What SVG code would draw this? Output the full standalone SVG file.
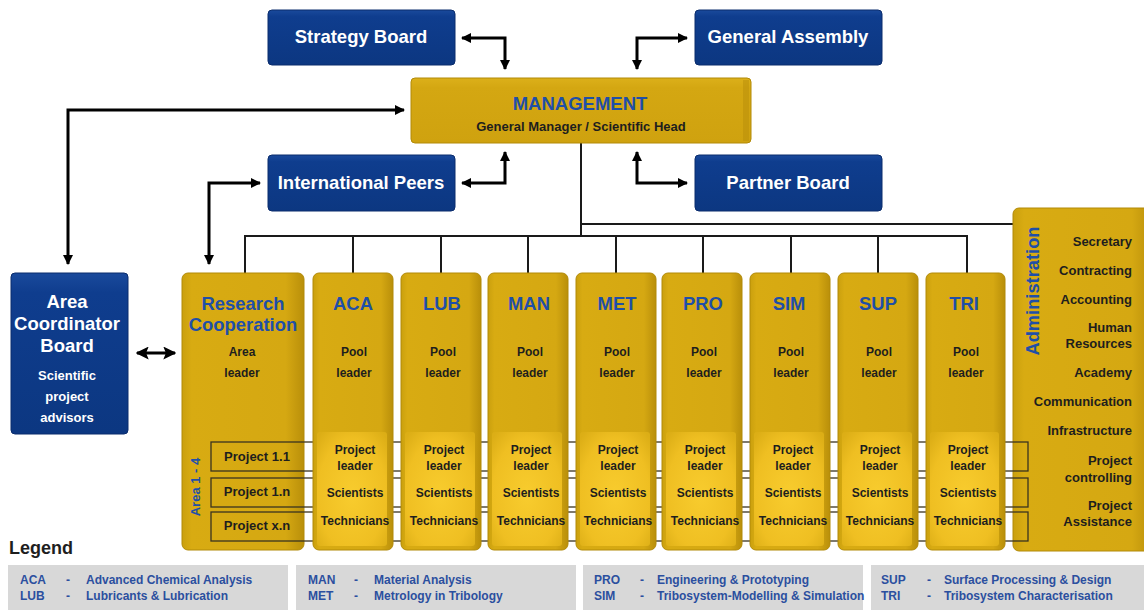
<svg xmlns="http://www.w3.org/2000/svg" width="1144" height="610" viewBox="0 0 1144 610">
  <style>
    .blue { fill: url(#blueFill); stroke: #0a2c6c; stroke-width: 1; }
    .gold { fill: url(#goldFill); stroke: #b28a08; stroke-width: 1; }
    .glow { fill: url(#glowFill); }
    .wt { font-family: "Liberation Sans", Arial, sans-serif; font-weight: bold; fill: #ffffff; text-anchor: middle; }
    .bt { font-family: "Liberation Sans", Arial, sans-serif; font-weight: bold; fill: #1f4fa8; text-anchor: middle; }
    .kt { font-family: "Liberation Sans", Arial, sans-serif; font-weight: bold; fill: #1e1e1e; text-anchor: middle; font-size: 12px; }
    .rt { font-family: "Liberation Sans", Arial, sans-serif; font-weight: bold; fill: #1e1e1e; text-anchor: end; font-size: 13px; }
    .lg { font-family: "Liberation Sans", Arial, sans-serif; font-weight: bold; fill: #2b4f9f; font-size: 12px; }
    .arrow { fill: none; stroke: #000; stroke-width: 3; }
    .tree { fill: none; stroke: #1a1a1a; stroke-width: 2; }
    .row { fill: none; stroke: #3a3320; stroke-width: 1.3; }
    .lbox { fill: #d8d8d8; }
  </style>
  <defs>
    <linearGradient id="blueFill" x1="0" y1="0" x2="0" y2="1">
      <stop offset="0" stop-color="#1a4a9c"/>
      <stop offset="0.12" stop-color="#0f3d8e"/>
      <stop offset="1" stop-color="#0c3781"/>
    </linearGradient>
    <linearGradient id="goldFill" x1="0" y1="0" x2="1" y2="0">
      <stop offset="0" stop-color="#caa00e"/>
      <stop offset="0.08" stop-color="#d8ab12"/>
      <stop offset="0.85" stop-color="#d5a812"/>
      <stop offset="1" stop-color="#b98f0a"/>
    </linearGradient>
    <linearGradient id="mgmtFill" x1="0" y1="0" x2="0" y2="1">
      <stop offset="0" stop-color="#dcb01a"/>
      <stop offset="0.15" stop-color="#d4a712"/>
      <stop offset="1" stop-color="#cfa20f"/>
    </linearGradient>
    <radialGradient id="glowFill" cx="0.5" cy="0.55" r="0.7">
      <stop offset="0" stop-color="#f8cc2e"/>
      <stop offset="0.7" stop-color="#efbf22"/>
      <stop offset="1" stop-color="#dcae16"/>
    </radialGradient>
    <marker id="ah" viewBox="0 0 10 10" refX="9" refY="5" markerWidth="10" markerHeight="10" markerUnits="userSpaceOnUse" orient="auto-start-reverse">
      <path d="M0,0 L10,5 L0,10 Z" fill="#000"/>
    </marker>
    <marker id="ahBig" viewBox="0 0 10 10" refX="9" refY="5" markerWidth="13" markerHeight="13" markerUnits="userSpaceOnUse" orient="auto-start-reverse">
      <path d="M0,0 L10,5 L0,10 L2,5 Z" fill="#000"/>
    </marker>
  </defs>

  <rect width="1144" height="610" fill="#ffffff"/>

  <!-- Connectors -->
  <g id="connectors">
    <!-- management tree -->
    <path class="tree" d="M581,143 V236 M581,224 H1014"/>
    <path class="tree" d="M245,273 V236 H967 V273"/>
    <path class="tree" d="M353,236 V273 M441,236 V273 M528,236 V273 M616,236 V273 M703,236 V273 M791,236 V273 M878,236 V273"/>
    <!-- boards to management -->
    <path class="arrow" d="M462,38 H505 V69" marker-start="url(#ah)" marker-end="url(#ah)"/>
    <path class="arrow" d="M637,69 V38 H687" marker-start="url(#ah)" marker-end="url(#ah)"/>
    <path class="arrow" d="M462,183 H505 V152" marker-start="url(#ah)" marker-end="url(#ah)"/>
    <path class="arrow" d="M637,152 V183 H687" marker-start="url(#ah)" marker-end="url(#ah)"/>
    <!-- area coordinator board to management -->
    <path class="arrow" d="M68,264 V110 H404" marker-start="url(#ah)" marker-end="url(#ah)"/>
    <!-- research cooperation to international peers -->
    <path class="arrow" d="M209,264 V183 H260" marker-start="url(#ah)" marker-end="url(#ah)"/>
    <!-- area coordinator board to research cooperation -->
    <path class="arrow" d="M137,353 H175" stroke-width="4" marker-start="url(#ahBig)" marker-end="url(#ahBig)"/>
  </g>

  <!-- Boards -->
  <g id="strategy-board">
    <rect class="blue" x="268" y="10" width="187" height="55" rx="4"/>
    <text class="wt" x="361" y="43" font-size="18.5">Strategy Board</text>
  </g>
  <g id="general-assembly">
    <rect class="blue" x="695" y="10" width="187" height="55" rx="4"/>
    <text class="wt" x="788" y="43" font-size="18.5">General Assembly</text>
  </g>
  <g id="management">
    <rect x="411" y="78" width="340" height="65" rx="4" fill="url(#mgmtFill)" stroke="#b28a08"/>
    <rect x="743" y="80" width="6" height="61" fill="#b88e0a" opacity="0.5"/>
    <text class="bt" x="580" y="110" font-size="18.5">MANAGEMENT</text>
    <text class="kt" x="581" y="131" style="font-size:13px">General Manager / Scientific Head</text>
  </g>
  <g id="international-peers">
    <rect class="blue" x="268" y="155" width="187" height="56" rx="4"/>
    <text class="wt" x="361" y="189" font-size="18.5">International Peers</text>
  </g>
  <g id="partner-board">
    <rect class="blue" x="695" y="155" width="187" height="56" rx="4"/>
    <text class="wt" x="788" y="189" font-size="18.5">Partner Board</text>
  </g>

  <g id="area-coordinator-board">
    <rect class="blue" x="11" y="273" width="117" height="161" rx="4"/>
    <text class="wt" x="67" y="308" font-size="18.5">Area</text>
    <text class="wt" x="67" y="330" font-size="18.5">Coordinator</text>
    <text class="wt" x="67" y="352" font-size="18.5">Board</text>
    <text class="wt" x="67" y="380" font-size="13">Scientific</text>
    <text class="wt" x="67" y="401" font-size="13">project</text>
    <text class="wt" x="67" y="422" font-size="13">advisors</text>
  </g>

  <!-- Administration -->
  <g id="administration">
    <rect class="gold" x="1013" y="208" width="140" height="343" rx="6"/>
    <text class="bt" transform="translate(1039,291) rotate(-90)" font-size="18.3">Administration</text>
    <text class="rt" x="1132" y="246">Secretary</text>
    <text class="rt" x="1132" y="275">Contracting</text>
    <text class="rt" x="1132" y="304">Accounting</text>
    <text class="rt" x="1132" y="332">Human</text>
    <text class="rt" x="1132" y="348">Resources</text>
    <text class="rt" x="1132" y="377">Academy</text>
    <text class="rt" x="1132" y="406">Communication</text>
    <text class="rt" x="1132" y="435">Infrastructure</text>
    <text class="rt" x="1132" y="465">Project</text>
    <text class="rt" x="1132" y="482">controlling</text>
    <text class="rt" x="1132" y="510">Project</text>
    <text class="rt" x="1132" y="526">Assistance</text>
  </g>

  <!-- Research cooperation -->
  <g id="research-cooperation">
    <rect class="gold" x="182" y="273" width="122" height="277" rx="6"/>
    <text class="bt" x="243" y="310" font-size="18.4">Research</text>
    <text class="bt" x="243" y="331" font-size="18.4">Cooperation</text>
    <text class="kt" x="242" y="356">Area</text>
    <text class="kt" x="242" y="377">leader</text>
    <text class="bt" transform="translate(200,487) rotate(-90)" font-size="13">Area 1 - 4</text>
  </g>

  <!-- Project rows -->
  <g id="project-rows">
    <rect class="row" x="211" y="442" width="817" height="29"/>
    <rect class="row" x="211" y="478" width="817" height="29"/>
    <rect class="row" x="211" y="512" width="817" height="29"/>
    <text class="kt" x="257" y="461" style="font-size:13px">Project 1.1</text>
    <text class="kt" x="257" y="496" style="font-size:13px">Project 1.n</text>
    <text class="kt" x="257" y="530" style="font-size:13px">Project x.n</text>
  </g>

  <!-- Competence pools -->
  <g id="pool-aca">
    <rect class="gold" x="313" y="273" width="80" height="277" rx="6"/>
    <rect class="glow" x="317" y="432" width="70" height="114" rx="3"/>
    <text class="bt" x="353" y="310" font-size="18.4">ACA</text>
    <text class="kt" x="354" y="356">Pool</text>
    <text class="kt" x="354" y="377">leader</text>
    <text class="kt" x="355" y="454">Project</text>
    <text class="kt" x="355" y="470">leader</text>
    <text class="kt" x="355" y="497">Scientists</text>
    <text class="kt" x="355" y="525">Technicians</text>
  </g>
  <g id="pool-lub">
    <rect class="gold" x="401" y="273" width="80" height="277" rx="6"/>
    <rect class="glow" x="405" y="432" width="70" height="114" rx="3"/>
    <text class="bt" x="442" y="310" font-size="18.4">LUB</text>
    <text class="kt" x="443" y="356">Pool</text>
    <text class="kt" x="443" y="377">leader</text>
    <text class="kt" x="444" y="454">Project</text>
    <text class="kt" x="444" y="470">leader</text>
    <text class="kt" x="444" y="497">Scientists</text>
    <text class="kt" x="444" y="525">Technicians</text>
  </g>
  <g id="pool-man">
    <rect class="gold" x="488" y="273" width="80" height="277" rx="6"/>
    <rect class="glow" x="492" y="432" width="70" height="114" rx="3"/>
    <text class="bt" x="529" y="310" font-size="18.4">MAN</text>
    <text class="kt" x="530" y="356">Pool</text>
    <text class="kt" x="530" y="377">leader</text>
    <text class="kt" x="531" y="454">Project</text>
    <text class="kt" x="531" y="470">leader</text>
    <text class="kt" x="531" y="497">Scientists</text>
    <text class="kt" x="531" y="525">Technicians</text>
  </g>
  <g id="pool-met">
    <rect class="gold" x="576" y="273" width="80" height="277" rx="6"/>
    <rect class="glow" x="580" y="432" width="70" height="114" rx="3"/>
    <text class="bt" x="617" y="310" font-size="18.4">MET</text>
    <text class="kt" x="617" y="356">Pool</text>
    <text class="kt" x="617" y="377">leader</text>
    <text class="kt" x="618" y="454">Project</text>
    <text class="kt" x="618" y="470">leader</text>
    <text class="kt" x="618" y="497">Scientists</text>
    <text class="kt" x="618" y="525">Technicians</text>
  </g>
  <g id="pool-pro">
    <rect class="gold" x="662" y="273" width="80" height="277" rx="6"/>
    <rect class="glow" x="666" y="432" width="70" height="114" rx="3"/>
    <text class="bt" x="703" y="310" font-size="18.4">PRO</text>
    <text class="kt" x="704" y="356">Pool</text>
    <text class="kt" x="704" y="377">leader</text>
    <text class="kt" x="705" y="454">Project</text>
    <text class="kt" x="705" y="470">leader</text>
    <text class="kt" x="705" y="497">Scientists</text>
    <text class="kt" x="705" y="525">Technicians</text>
  </g>
  <g id="pool-sim">
    <rect class="gold" x="750" y="273" width="80" height="277" rx="6"/>
    <rect class="glow" x="754" y="432" width="70" height="114" rx="3"/>
    <text class="bt" x="789" y="310" font-size="18.4">SIM</text>
    <text class="kt" x="791" y="356">Pool</text>
    <text class="kt" x="791" y="377">leader</text>
    <text class="kt" x="793" y="454">Project</text>
    <text class="kt" x="793" y="470">leader</text>
    <text class="kt" x="793" y="497">Scientists</text>
    <text class="kt" x="793" y="525">Technicians</text>
  </g>
  <g id="pool-sup">
    <rect class="gold" x="838" y="273" width="80" height="277" rx="6"/>
    <rect class="glow" x="842" y="432" width="70" height="114" rx="3"/>
    <text class="bt" x="878" y="310" font-size="18.4">SUP</text>
    <text class="kt" x="879" y="356">Pool</text>
    <text class="kt" x="879" y="377">leader</text>
    <text class="kt" x="880" y="454">Project</text>
    <text class="kt" x="880" y="470">leader</text>
    <text class="kt" x="880" y="497">Scientists</text>
    <text class="kt" x="880" y="525">Technicians</text>
  </g>
  <g id="pool-tri">
    <rect class="gold" x="926" y="273" width="79" height="277" rx="6"/>
    <rect class="glow" x="930" y="432" width="69" height="114" rx="3"/>
    <text class="bt" x="964" y="310" font-size="18.4">TRI</text>
    <text class="kt" x="966" y="356">Pool</text>
    <text class="kt" x="966" y="377">leader</text>
    <text class="kt" x="968" y="454">Project</text>
    <text class="kt" x="968" y="470">leader</text>
    <text class="kt" x="968" y="497">Scientists</text>
    <text class="kt" x="968" y="525">Technicians</text>
  </g>

  <!-- Legend -->
  <g id="legend">
    <text x="9" y="554" font-family="Liberation Sans, Arial, sans-serif" font-weight="bold" font-size="18" fill="#1e1e1e">Legend</text>
    <rect class="lbox" x="8" y="565" width="280" height="45"/>
    <rect class="lbox" x="296" y="565" width="280" height="45"/>
    <rect class="lbox" x="583" y="565" width="280" height="45"/>
    <rect class="lbox" x="871" y="565" width="273" height="45"/>
    <text class="lg" x="20" y="584">ACA</text><text class="lg" x="66" y="584">-</text><text class="lg" x="86" y="584">Advanced Chemical Analysis</text>
    <text class="lg" x="20" y="600">LUB</text><text class="lg" x="66" y="600">-</text><text class="lg" x="86" y="600">Lubricants &amp; Lubrication</text>
    <text class="lg" x="308" y="584">MAN</text><text class="lg" x="354" y="584">-</text><text class="lg" x="374" y="584">Material Analysis</text>
    <text class="lg" x="308" y="600">MET</text><text class="lg" x="354" y="600">-</text><text class="lg" x="374" y="600">Metrology in Tribology</text>
    <text class="lg" x="594" y="584">PRO</text><text class="lg" x="640" y="584">-</text><text class="lg" x="657" y="584">Engineering &amp; Prototyping</text>
    <text class="lg" x="594" y="600">SIM</text><text class="lg" x="640" y="600">-</text><text class="lg" x="657" y="600">Tribosystem-Modelling &amp; Simulation</text>
    <text class="lg" x="881" y="584">SUP</text><text class="lg" x="927" y="584">-</text><text class="lg" x="944" y="584">Surface Processing &amp; Design</text>
    <text class="lg" x="881" y="600">TRI</text><text class="lg" x="927" y="600">-</text><text class="lg" x="944" y="600">Tribosystem Characterisation</text>
  </g>
</svg>
